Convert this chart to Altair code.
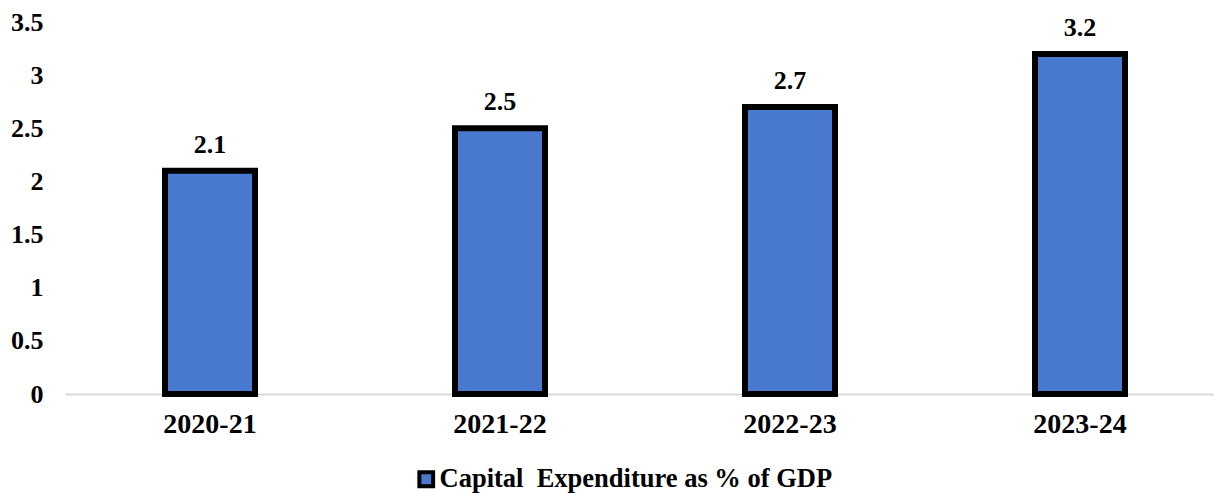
import altair as alt
import pandas as pd

years = ["2020-21", "2021-22", "2022-23", "2023-24"]
values = [2.1, 2.5, 2.7, 3.2]
series = ["Capital\u00a0\u00a0Expenditure as % of GDP"] * 4

df = pd.DataFrame({"year": years, "value": values, "series": series})

FONT = "Liberation Serif"

base = alt.Chart(df)

x = alt.X(
    "year:N",
    sort=years,
    title=None,
    scale=alt.Scale(range=[0, 1160], paddingInner=0, paddingOuter=0),
    axis=alt.Axis(
        labelAngle=0,
        labelFont=FONT,
        labelFontSize=28,
        labelFontWeight="bold",
        labelColor="black",
        labelPadding=16,
        labelBaseline="top",
        ticks=False,
        domainColor="#d9d9d9",
        domainWidth=2,
        grid=False,
    ),
)
y = alt.Y(
    "value:Q",
    title=None,
    scale=alt.Scale(domain=[0, 3.5], nice=False),
    axis=alt.Axis(
        values=[0, 0.5, 1, 1.5, 2, 2.5, 3, 3.5],
        format="~g",
        labelFont=FONT,
        labelFontSize=26,
        labelFontWeight="bold",
        labelColor="black",
        labelPadding=22,
        ticks=False,
        domain=False,
        grid=False,
    ),
)

bars = base.mark_bar(width=90, stroke="black", strokeWidth=6).encode(
    x=x,
    y=y,
    color=alt.Color(
        "series:N",
        scale=alt.Scale(range=["#4A7AD0"]),
        legend=alt.Legend(
            title=None,
            orient="none",
            legendX=348,
            legendY=444,
            direction="horizontal",
            symbolType="square",
            symbolSize=190,
            symbolStrokeColor="black",
            symbolStrokeWidth=4,
            labelFont=FONT,
            labelFontSize=26.5,
            labelFontWeight="bold",
            labelColor="black",
            labelOffset=0,
            labelLimit=600,
        ),
    ),
)

labels = base.mark_text(
    dy=-26, font=FONT, fontSize=26, fontWeight="bold", color="black", baseline="middle"
).encode(x=alt.X("year:N", sort=years), y="value:Q", text=alt.Text("value:Q", format=".1f"))

chart = (
    alt.layer(bars, labels)
    .properties(
        width=1149,
        height=372,
        autosize=alt.AutoSizeParams(type="none"),
        padding={"left": 57, "top": 14, "right": 0, "bottom": 99},
        view=alt.ViewBackground(stroke="transparent", strokeWidth=0),
    )
    .configure_view(stroke="transparent", strokeWidth=0)
    .configure_axis(grid=False)
    .configure(background="white")
)

chart.save("out.html", embed_options={"renderer": "svg", "actions": False})
